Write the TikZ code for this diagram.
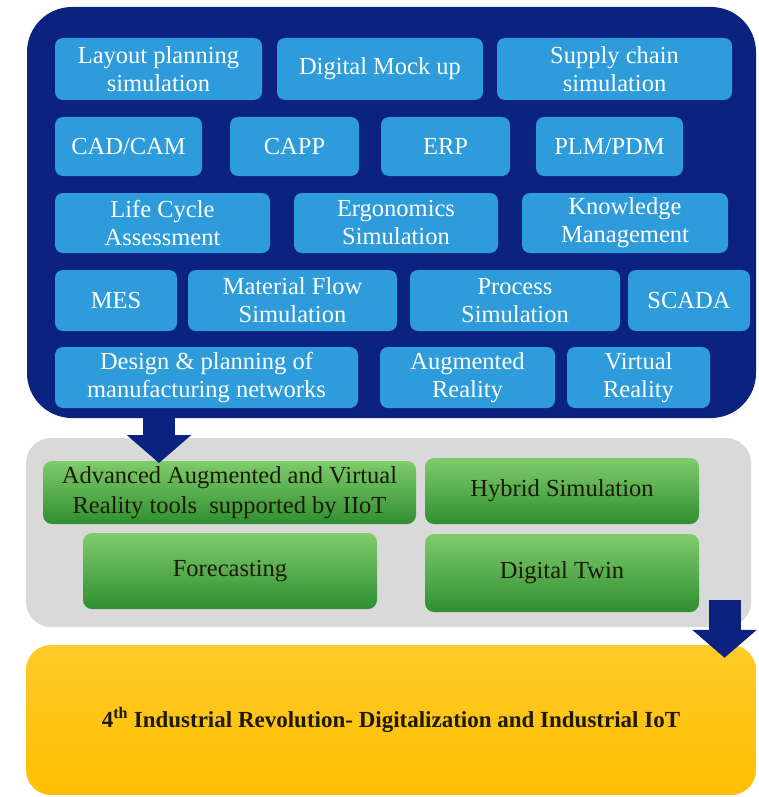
\documentclass[tikz,border=0pt]{standalone}
\usepackage{fontspec}
\setmainfont{Liberation Serif}
\usepackage{tikz}
\usetikzlibrary{positioning,arrows.meta,calc}
\definecolor{navy}{HTML}{0B2280}
\definecolor{skyblue}{HTML}{2E9BDA}
\definecolor{panelgray}{HTML}{D9D9D9}
\definecolor{greentop}{HTML}{7FCC6C}
\definecolor{greenbot}{HTML}{2F8F30}
\definecolor{ambertop}{HTML}{FFCB2A}
\definecolor{amberbot}{HTML}{FFBE00}
\definecolor{darktext}{HTML}{1E1A05}
\tikzset{
  toolbox/.style={fill=skyblue, rounded corners=8pt, text=white, align=center,
    inner sep=0pt, font=\fontsize{24.5}{28}\selectfont},
  trendbox/.style={top color=greentop, bottom color=greenbot, rounded corners=9pt,
    text=darktext, align=center, inner sep=0pt, font=\fontsize{24.5}{30}\selectfont},
  bigarrow/.style={navy, line width=32pt, -{Triangle[length=28pt,width=63pt]}}
}

\begin{document}
\begin{tikzpicture}[x=1pt,y=-1pt]
        \useasboundingbox (0,0) rectangle (759,797);
        % Tools panel
        \node[fill=navy, rounded corners=45pt, minimum width=729pt, minimum height=411pt,
          inner sep=0pt] (panel) at (391.5,212.5) {};
        % Row 1
        \node[toolbox, minimum width=207pt, minimum height=62pt] (lps) at (158.5,69) {Layout planning\\simulation};
        \node[toolbox, minimum width=206pt, minimum height=62pt] (dmu) at (380,69) {Digital Mock up};
        \node[toolbox, minimum width=235pt, minimum height=62pt] (scs) at (614.5,69) {Supply chain\\simulation};
        % Row 2
        \node[toolbox, minimum width=147pt, minimum height=59pt] (cad) at (128.5,146.5) {CAD/CAM};
        \node[toolbox, minimum width=129pt, minimum height=59pt] (capp) at (294.5,146.5) {CAPP};
        \node[toolbox, minimum width=129pt, minimum height=59pt] (erp) at (445.5,146.5) {ERP};
        \node[toolbox, minimum width=147pt, minimum height=59pt] (plm) at (609.5,146.5) {PLM/PDM};
        % Row 3
        \node[toolbox, minimum width=215pt, minimum height=60pt] (lca) at (162.5,223) {Life Cycle\\Assessment};
        \node[toolbox, minimum width=204pt, minimum height=60pt] (ergo) at (396,223) {Ergonomics\\Simulation};
        \node[toolbox, minimum width=206pt, minimum height=60pt] (km) at (625,223) {Knowledge\\Management};
        % Row 4
        \node[toolbox, minimum width=122pt, minimum height=61pt] (mes) at (116,300.5) {MES};
        \node[toolbox, minimum width=209pt, minimum height=61pt] (mfs) at (292.5,300.5) {Material Flow\\Simulation};
        \node[toolbox, minimum width=210pt, minimum height=61pt] (psim) at (515,300.5) {Process\\Simulation};
        \node[toolbox, minimum width=122pt, minimum height=61pt] (scada) at (689,300.5) {SCADA};
        % Row 5
        \node[toolbox, minimum width=303pt, minimum height=61pt] (dpmn) at (206.5,377.5) {Design \& planning of\\manufacturing networks};
        \node[toolbox, minimum width=175pt, minimum height=61pt] (ar) at (467.5,377.5) {Augmented\\Reality};
        \node[toolbox, minimum width=143pt, minimum height=61pt] (vr) at (638.5,377.5) {Virtual\\Reality};
        % Trends panel
        \node[fill=panelgray, rounded corners=25pt, minimum width=725pt, minimum height=189pt,
          inner sep=0pt] (trends) at (388.5,532.5) {};
        \node[trendbox, minimum width=373pt, minimum height=63pt] (aavr) at (229.5,492.5) {Advanced Augmented and Virtual\\Reality tools\ \ supported by IIoT};
        \node[trendbox, minimum width=274pt, minimum height=66pt] (hyb) at (562,491) {Hybrid Simulation};
        \node[trendbox, minimum width=294pt, minimum height=76pt] (fc) at (230,571) {Forecasting};
        \node[trendbox, minimum width=274pt, minimum height=78pt] (dt) at (562,573) {Digital Twin};
        % Goal
        \node[top color=ambertop, bottom color=amberbot, rounded corners=25pt, minimum width=730pt,
          minimum height=150pt, inner sep=0pt, text=darktext,
          font=\fontsize{23}{26}\selectfont\bfseries] (goal) at (391,720)
          {\raisebox{-2pt}{4\textsuperscript{th} Industrial Revolution- Digitalization and Industrial IoT}};
        % Arrows
        \coordinate (tip1) at (159,463);
        \draw[bigarrow] ($(tip1 |- panel.south)+(0,-4)$) -- (tip1);
        \coordinate (tail2) at (724.5,600);
        \draw[bigarrow] (tail2) -- ($(tail2 |- goal.north)+(0,13)$);
      \end{tikzpicture}
\end{document}
